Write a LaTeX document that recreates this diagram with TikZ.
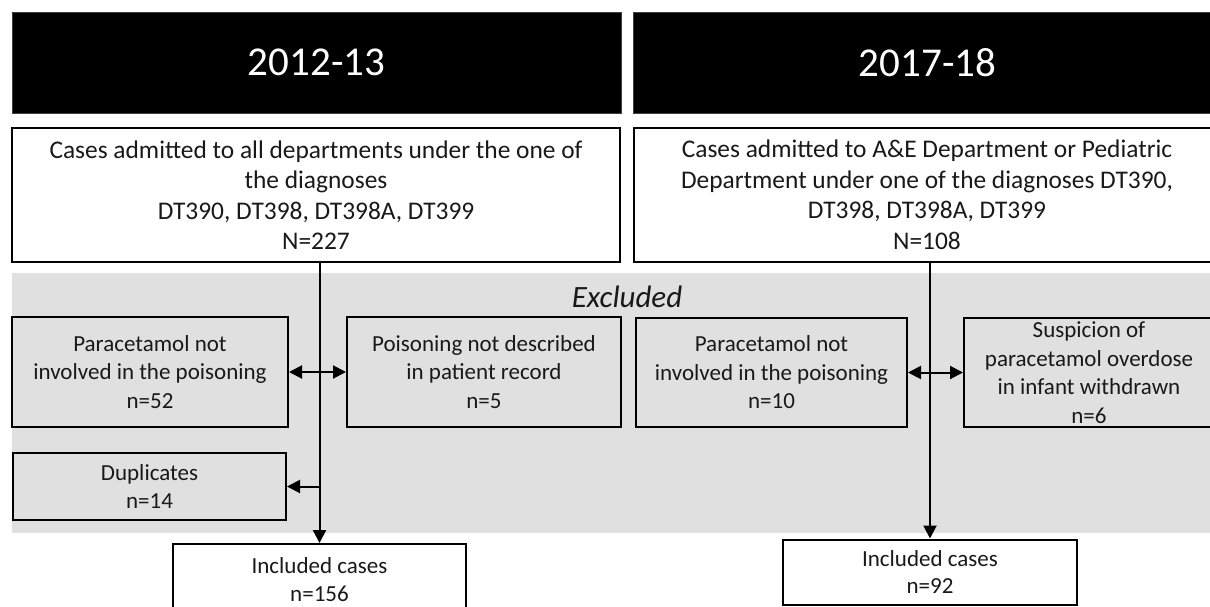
\documentclass[tikz,border=0pt]{standalone}
\usepackage{fontspec}
\setmainfont{Carlito}
\usetikzlibrary{arrows.meta}
\begin{document}
\begin{tikzpicture}[x=1pt,y=-1pt,
  every node/.style={text=black!90},
  head/.style={fill=black,draw=black!75,line width=1pt,text=white,inner sep=0pt,font=\fontsize{41}{49}\selectfont},
  topbox/.style={draw=black,line width=2pt,fill=white,align=center,inner sep=0pt,font=\fontsize{25.4}{30.5}\selectfont},
  exbox/.style={draw=black,line width=2pt,fill=black!12,align=center,inner sep=0pt,font=\fontsize{23}{28.5}\selectfont},
  incbox/.style={draw=black,line width=2pt,fill=white,align=center,inner sep=0pt,font=\fontsize{23}{27.5}\selectfont},
  flow/.style={line width=2pt,-{Triangle[length=13pt,width=13pt]}},
  flowboth/.style={line width=2pt,{Triangle[length=13pt,width=13pt]}-{Triangle[length=13pt,width=13pt]}}]
  \useasboundingbox (0,0) rectangle (1210,606);
  \clip (0,0) rectangle (1210,606);
  \fill[black!12] (12,273) rectangle (1216,533);
  \node[head,minimum width=609pt,minimum height=101pt] (hdL) at (316.5,62.5) {2012-13};
  \node[head,minimum width=589pt,minimum height=101pt] (hdR) at (927.5,62.5) {2017-18};
  \node[topbox,minimum width=608pt,minimum height=134pt] (topL) at (316,195)
    {Cases admitted to all departments under the one of\\the diagnoses\\DT390, DT398, DT398A, DT399\\N=227};
  \node[topbox,minimum width=586pt,minimum height=134pt] (topR) at (927,195)
    {Cases admitted to A\&E Department or Pediatric\\Department under one of the diagnoses DT390,\\DT398, DT398A, DT399\\N=108};
  \node[font=\fontsize{31}{37}\selectfont\itshape] (excl) at (627,297) {Excluded};
  \node[exbox,minimum width=276pt,minimum height=110pt] (paraL) at (150,372)
    {Paracetamol not\\involved in the poisoning\\n=52};
  \node[exbox,minimum width=274pt,minimum height=110pt] (poisL) at (484,372)
    {Poisoning not described\\in patient record\\n=5};
  \node[exbox,minimum width=273pt,minimum height=67pt] (dupL) at (149.5,486.5)
    {Duplicates\\n=14};
  \node[exbox,minimum width=271pt,minimum height=109pt] (paraR) at (771.5,372.5)
    {Paracetamol not\\involved in the poisoning\\n=10};
  \node[exbox,minimum width=250pt,minimum height=109pt] (suspR) at (1089,372.5)
    {Suspicion of\\paracetamol overdose\\in infant withdrawn\\n=6};
  \node[incbox,minimum width=293pt,minimum height=71pt] (incL) at (319.5,579.5)
    {Included cases\\n=156};
  \node[incbox,minimum width=294pt,minimum height=65pt] (incR) at (930,572)
    {Included cases\\n=92};
  \draw[flow] (incL.north |- topL.south) -- (incL.north);
  \draw[flow] (incR.north |- topR.south) -- (incR.north);
  \draw[flowboth] (paraL.east) -- (poisL.west);
  \draw[flowboth] (paraR.east) -- (suspR.west);
  \draw[flow] (incL.north |- dupL.east) -- (dupL.east);
\end{tikzpicture}
\end{document}
